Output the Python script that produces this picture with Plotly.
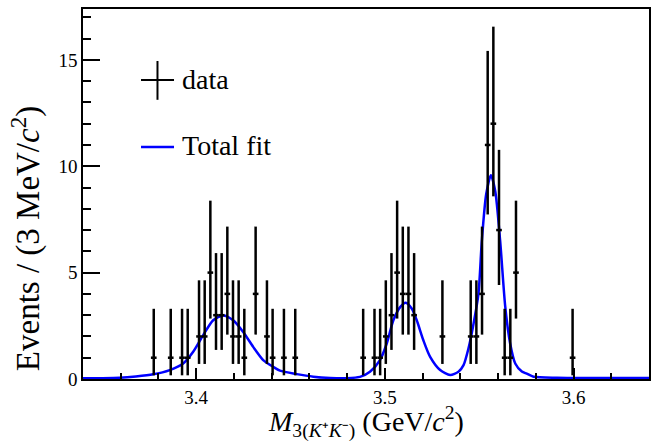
# Invariant mass spectrum with total fit (ROOT-like style)

import plotly.graph_objects as go

# Histogram: 3 MeV bins from 3.34 to 3.64 GeV, only non-empty bins are shown
bin_lo = 3.34
bin_width = 0.003
bin_index = [12, 15, 17, 18, 20, 21, 22, 23, 24, 25, 26, 27, 28, 30, 32, 33,
             35, 37,
             49, 51, 52, 53, 54, 55, 56, 57, 58, 63,
             68, 69, 70, 71, 72, 73, 74, 75, 76, 86]
counts = [1, 1, 1, 1, 2, 2, 5, 3, 3, 4, 2, 2, 1, 4, 2, 1,
          1, 1,
          1, 1, 1, 2, 3, 5, 4, 4, 3, 2,
          2, 2, 4, 11, 12, 7, 1, 1, 5, 1]

# Poisson (Garwood 68%) interval for n = 0..15
poisson_lo = [0.0, 0.173, 0.708, 1.367, 2.086, 2.840, 3.620, 4.419, 5.232,
              6.057, 6.891, 7.734, 8.585, 9.441, 10.30, 11.17]
poisson_hi = [1.841, 3.300, 4.638, 5.918, 7.163, 8.382, 9.584, 10.77, 11.95,
              13.11, 14.27, 15.42, 16.56, 17.70, 18.83, 19.96]

# Total fit curve
fit_x = [3.3400, 3.3500, 3.3595, 3.3680, 3.3772, 3.3860, 3.3931, 3.3984,
         3.4037, 3.4090, 3.4143, 3.4196, 3.4249, 3.4302, 3.4355, 3.4408,
         3.4444, 3.4533, 3.4621, 3.4710, 3.4798, 3.4868, 3.4921, 3.4974,
         3.5010, 3.5045, 3.5081, 3.5111, 3.5143, 3.5169, 3.5204, 3.5240,
         3.5293, 3.5346, 3.5390, 3.5417, 3.5443, 3.5470, 3.5496, 3.5514,
         3.5537, 3.5562, 3.5585, 3.5611, 3.5638, 3.5664, 3.5691, 3.5726,
         3.5752, 3.5788, 3.5912, 3.6100, 3.6400]
fit_y = [0.03, 0.04, 0.06, 0.12, 0.22, 0.42, 0.73, 1.28,
         2.06, 2.76, 2.99, 2.76, 2.21, 1.51, 0.89, 0.57,
         0.39, 0.23, 0.11, 0.05, 0.04, 0.10, 0.34, 0.89,
         1.67, 2.76, 3.38, 3.58, 3.30, 2.76, 1.82, 1.04,
         0.42, 0.19, 0.34, 0.65, 1.43, 2.60, 4.00, 6.50,
         8.68, 9.58, 8.83, 6.50, 3.40, 1.67, 0.73, 0.35,
         0.25, 0.11, 0.06, 0.05, 0.05]

x_range = [3.34, 3.64]
y_range = [0, 17.39]

centers = [bin_lo + bin_width * (i + 0.5) for i in bin_index]
err_up = [poisson_hi[n] - n for n in counts]
err_dn = [n - poisson_lo[n] for n in counts]

font = "Liberation Serif, Times New Roman, serif"

fig = go.Figure()
fig.add_trace(go.Scatter(
    x=fit_x, y=fit_y, mode="lines",
    line=dict(color="#0000ff", width=2.5, shape="spline", smoothing=0.7),
    hoverinfo="skip"))
fig.add_trace(go.Scatter(
    x=centers, y=counts, mode="markers",
    marker=dict(size=1, color="black"),
    error_y=dict(type="data", symmetric=False, array=err_up, arrayminus=err_dn,
                 color="black", thickness=2.5, width=0),
    error_x=dict(type="constant", value=bin_width / 2, color="black",
                 thickness=2.5, width=0)))

# hand-drawn legend like the ROOT one
fig.add_shape(type="line", xref="paper", yref="paper",
              x0=0.1025, x1=0.1608, y0=0.8083, y1=0.8083,
              line=dict(color="black", width=2))
fig.add_shape(type="line", xref="paper", yref="paper",
              x0=0.1316, x1=0.1316, y0=0.7546, y1=0.8594,
              line=dict(color="black", width=2))
fig.add_shape(type="line", xref="paper", yref="paper",
              x0=0.1025, x1=0.1608, y0=0.6272, y1=0.6272,
              line=dict(color="#0000ff", width=2.5))
fig.add_annotation(x=0.172, y=0.81, xref="paper", yref="paper",
                   text="data", showarrow=False, xanchor="left",
                   yanchor="middle", font=dict(family=font, size=28, color="black"))
fig.add_annotation(x=0.172, y=0.632, xref="paper", yref="paper",
                   text="Total fit", showarrow=False, xanchor="left",
                   yanchor="middle", font=dict(family=font, size=28, color="black"))

# axis titles
fig.add_annotation(x=0.5, y=-0.058, xref="paper", yref="paper",
                   text="<i>M</i><sub>3(<i>K</i>⁺<i>K</i>⁻)</sub> (GeV/<i>c</i><sup>2</sup>)",
                   showarrow=False, xanchor="center", yanchor="top",
                   font=dict(family=font, size=28, color="black"))
fig.add_annotation(x=-0.1, y=0.379, xref="paper", yref="paper",
                   text="Events / (3 MeV/<i>c</i><sup>2</sup>)",
                   showarrow=False, textangle=-90, xanchor="center",
                   yanchor="middle",
                   font=dict(family=font, size=33, color="black"))

fig.update_xaxes(range=x_range, showline=True, linecolor="black", linewidth=1.5,
                 mirror=True, ticks="inside", ticklen=11, tickwidth=1.5,
                 tickcolor="black", dtick=0.1, tick0=3.4, tickformat=".1f",
                 minor=dict(dtick=0.02, ticklen=6, tickwidth=1.5,
                            tickcolor="black", ticks="inside"),
                 showgrid=False, zeroline=False,
                 tickfont=dict(family=font, size=19, color="black"))
fig.update_yaxes(range=y_range, showline=True, linecolor="black", linewidth=1.5,
                 mirror=True, ticks="inside", ticklen=17, tickwidth=1.5,
                 tickcolor="black", dtick=5, tick0=0,
                 minor=dict(dtick=1, ticklen=8, tickwidth=1.5,
                            tickcolor="black", ticks="inside"),
                 showgrid=False, zeroline=False,
                 tickfont=dict(family=font, size=19, color="black"))
fig.update_layout(width=659, height=445, showlegend=False,
                  margin=dict(l=83, r=10, t=7, b=66),
                  plot_bgcolor="white", paper_bgcolor="white")
# drop the default page margin so the figure sits at the window's corner
fig.write_html("out.html", config={"displayModeBar": False},
               post_script="document.body.style.margin='0';")
